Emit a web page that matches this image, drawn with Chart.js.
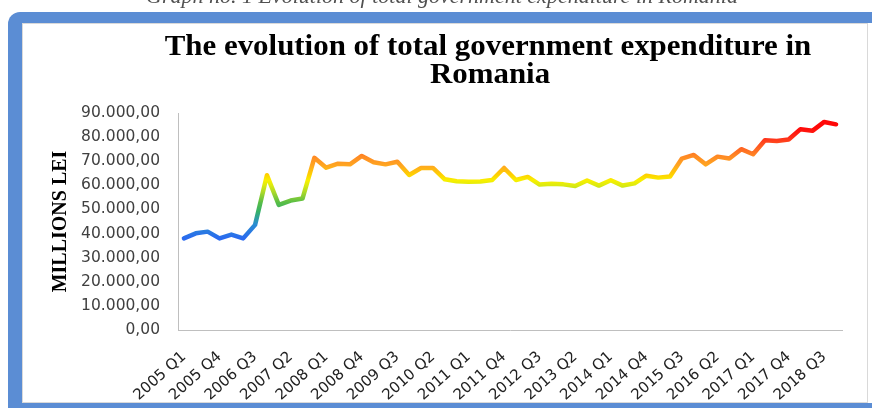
<!DOCTYPE html>
<html>
<head>
<meta charset="utf-8">
<title>The evolution of total government expenditure in Romania</title>
<script src="https://cdn.jsdelivr.net/npm/chart.js@4.4.1/dist/chart.umd.min.js"></script>
<style>
  html, body { margin: 0; padding: 0; background: #fff; }
  #chart { display: block; }
</style>
</head>
<body>
<canvas id="chart" width="872" height="408"></canvas>
<script>
// Data (millions lei, quarterly)
const quarters = [
    '2005 Q1', '2005 Q2', '2005 Q3', '2005 Q4', '2006 Q1', '2006 Q2', '2006 Q3', '2006 Q4',
    '2007 Q1', '2007 Q2', '2007 Q3', '2007 Q4', '2008 Q1', '2008 Q2', '2008 Q3', '2008 Q4',
    '2009 Q1', '2009 Q2', '2009 Q3', '2009 Q4', '2010 Q1', '2010 Q2', '2010 Q3', '2010 Q4',
    '2011 Q1', '2011 Q2', '2011 Q3', '2011 Q4', '2012 Q1', '2012 Q2', '2012 Q3', '2012 Q4',
    '2013 Q1', '2013 Q2', '2013 Q3', '2013 Q4', '2014 Q1', '2014 Q2', '2014 Q3', '2014 Q4',
    '2015 Q1', '2015 Q2', '2015 Q3', '2015 Q4', '2016 Q1', '2016 Q2', '2016 Q3', '2016 Q4',
    '2017 Q1', '2017 Q2', '2017 Q3', '2017 Q4', '2018 Q1', '2018 Q2', '2018 Q3', '2018 Q4'
];

const expenditure = [
    38000, 40100, 40800, 38000, 39600, 38000, 43600, 64200,
    51900, 53700, 54500, 71400, 67300, 69000, 68700, 72200,
    69600, 68700, 69800, 64300, 67200, 67200, 62500, 61700,
    61500, 61600, 62200, 67200, 62200, 63500, 60300, 60700,
    60400, 59700, 62000, 59900, 62100, 59900, 60800, 64000,
    63200, 63700, 71100, 72600, 68700, 71900, 71100, 75000,
    72900, 78700, 78400, 79000, 83300, 82600, 86300, 85300
];

// Only every third quarter is labelled on the axis
const xTickLabels = [
    '2005 Q1', '2005 Q4', '2006 Q3', '2007 Q2', '2008 Q1', '2008 Q4', '2009 Q3',
    '2010 Q2', '2011 Q1', '2011 Q4', '2012 Q3', '2013 Q2', '2014 Q1', '2014 Q4',
    '2015 Q3', '2016 Q2', '2017 Q1', '2017 Q4', '2018 Q3'
];

const yTickLabels = [
    '0,00', '10.000,00', '20.000,00', '30.000,00', '40.000,00',
    '50.000,00', '60.000,00', '70.000,00', '80.000,00', '90.000,00'
];

// Line colour follows the value (blue low -> red high)
const gradientStops = [
    [38000, '#2a6af0'],
    [44000, '#2a8ed0'],
    [49000, '#35b06a'],
    [53000, '#5abe45'],
    [57000, '#a8d82a'],
    [60000, '#dcea10'],
    [62000, '#f8f000'],
    [64500, '#ffd000'],
    [68000, '#ffa820'],
    [72000, '#ff8a24'],
    [76000, '#ff5e22'],
    [80000, '#ff2a18'],
    [84000, '#ff0808']
];

const captionText = 'Graph no. 1 Evolution of total government expenditure in Romania';
const titleLines = ['The evolution of total government expenditure in', 'Romania'];

Chart.defaults.font.family = '"DejaVu Sans", sans-serif';

// Build the value gradient from the y scale
function lineGradient(context) {
    const chart = context.chart;
    const { ctx, chartArea, scales } = chart;
    if (!chartArea) return null;
    const lo = gradientStops[0][0];
    const hi = gradientStops[gradientStops.length - 1][0];
    const g = ctx.createLinearGradient(0, scales.y.getPixelForValue(lo), 0, scales.y.getPixelForValue(hi));
    gradientStops.forEach(([v, c]) => g.addColorStop((v - lo) / (hi - lo), c));
    return g;
}

// Blue frame, caption and chart title
const framePlugin = {
    id: 'frame',
    beforeDraw(chart) {
        const ctx = chart.ctx;
        ctx.save();
        ctx.fillStyle = '#ffffff';
        ctx.fillRect(0, 0, chart.width, chart.height);

        // caption above the frame, mostly cut off
        ctx.fillStyle = '#505050';
        ctx.font = 'italic 22px "Liberation Serif"';
        ctx.textAlign = 'center';
        ctx.textBaseline = 'alphabetic';
        ctx.fillText(captionText, 442, 3);

        ctx.fillStyle = '#5b8dd4';
        ctx.beginPath();
        if (ctx.roundRect) ctx.roundRect(8, 12, 900, 420, 12);
        else ctx.rect(8, 12, 900, 420);
        ctx.fill();

        ctx.fillStyle = '#ffffff';
        ctx.fillRect(22, 23, 850, 380);
        ctx.strokeStyle = '#d9d9d9';
        ctx.lineWidth = 1;
        ctx.strokeRect(22.5, 23.5, 845, 379);

        // chart title
        ctx.fillStyle = '#000000';
        ctx.font = 'bold 30px "Liberation Serif"';
        ctx.save();
        ctx.translate(488, 0);
        ctx.scale(1.03, 1);
        ctx.fillText(titleLines[0], 0, 55);
        ctx.fillText(titleLines[1], 2, 83);
        ctx.restore();
        ctx.restore();
    }
};

const chart = new Chart(document.getElementById('chart'), {
    type: 'line',
    data: {
        labels: quarters,
        datasets: [{
            label: 'Total government expenditure',
            data: expenditure,
            borderColor: lineGradient,
            borderWidth: 4.5,
            borderJoinStyle: 'round',
            borderCapStyle: 'round',
            pointRadius: 0,
            tension: 0,
            fill: false
        }]
    },
    options: {
        responsive: false,
        animation: false,
        devicePixelRatio: 1,
        layout: { padding: { left: 22, right: 30, top: 113, bottom: 8 } },
        plugins: {
            legend: { display: false },
            tooltip: { enabled: false },
            title: { display: false }
        },
        scales: {
            x: {
                offset: true,
                grid: { display: false, drawTicks: false },
                border: { display: true, color: '#bfbfbf', width: 1 },
                ticks: {
                    autoSkip: false,
                    minRotation: 42,
                    maxRotation: 42,
                    padding: 18,
                    color: '#222222',
                    font: { size: 15 },
                    callback: (value, index) => xTickLabels.includes(quarters[index]) ? quarters[index] : ''
                },
                afterFit: scale => { scale.height = 70; }
            },
            y: {
                min: 0,
                max: 90000,
                grid: { display: false, drawTicks: false },
                border: { display: true, color: '#bfbfbf', width: 1 },
                ticks: {
                    stepSize: 10000,
                    padding: 18,
                    color: '#404040',
                    font: { size: 15.5 },
                    callback: value => yTickLabels[Math.round(value / 10000)]
                },
                title: {
                    display: true,
                    text: 'MILLIONS LEI',
                    color: '#000000',
                    font: { family: '"Liberation Serif"', size: 20, weight: 'bold' },
                    padding: { top: 27, bottom: 0 }
                },
                afterFit: scale => { scale.width = 156; }
            }
        }
    },
    plugins: [framePlugin]
});
</script>
</body>
</html>
